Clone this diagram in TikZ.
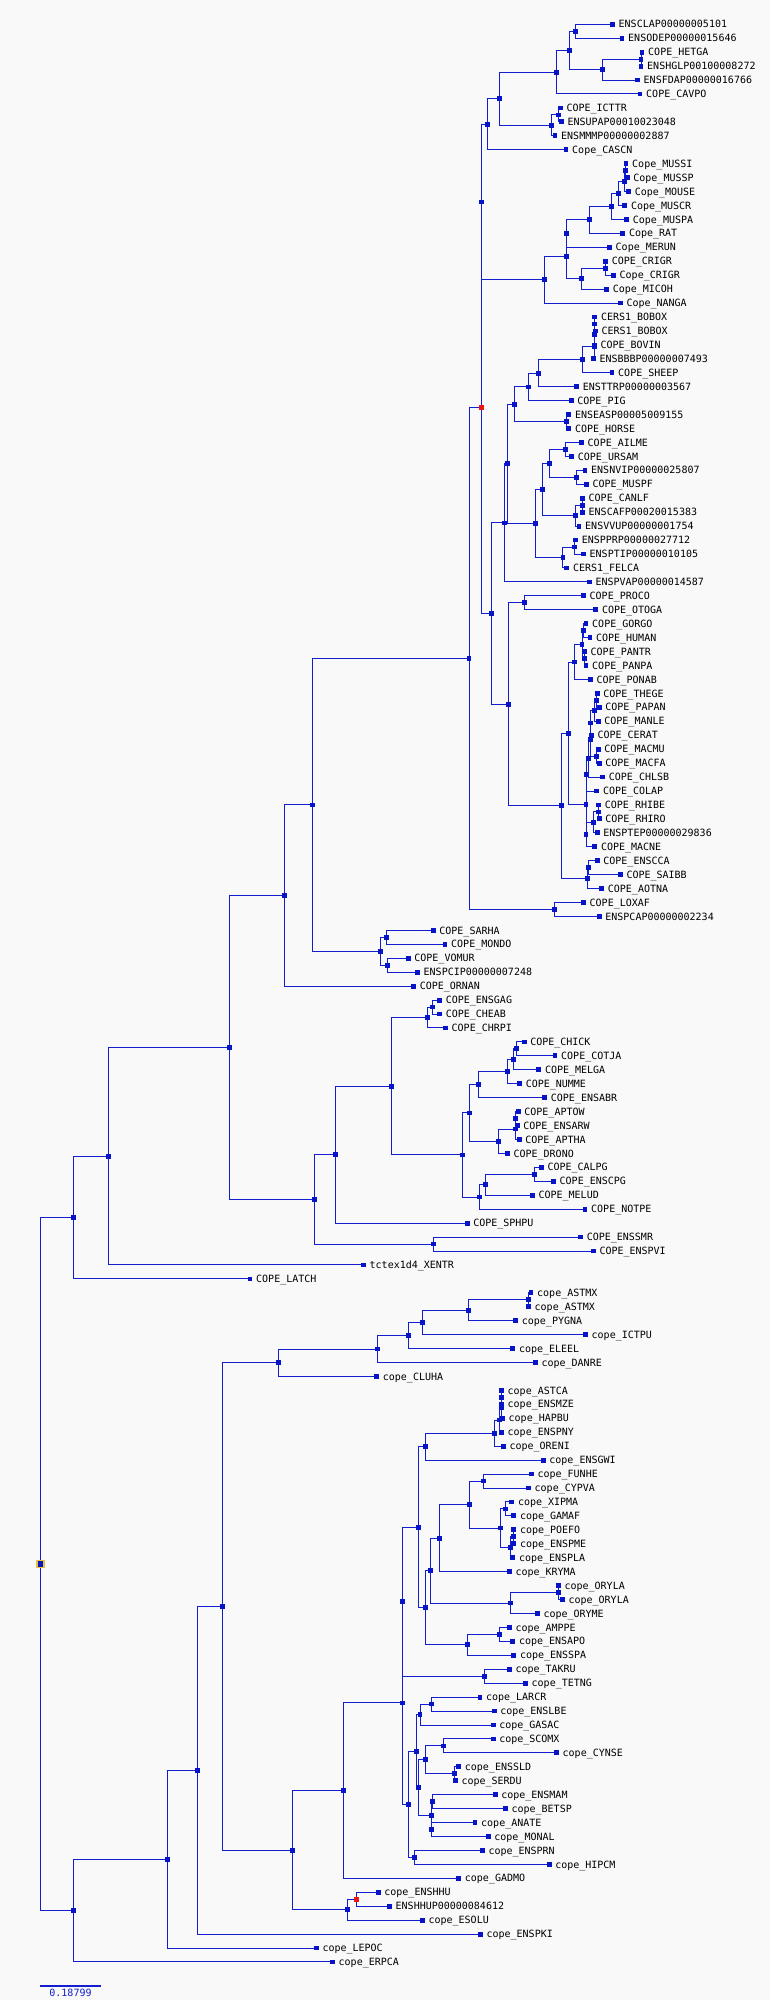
\documentclass[tikz,border=0pt]{standalone}
\usepackage{fontspec}
\setmonofont{DejaVu Sans Mono}
\usetikzlibrary{calc}
\definecolor{edgeblue}{RGB}{18,30,208}
\definecolor{markblue}{RGB}{8,20,200}
\definecolor{bgcol}{RGB}{249,249,249}
\definecolor{rootgold}{RGB}{232,192,64}
\definecolor{hotred}{RGB}{240,20,20}
\tikzset{
  edge/.style={draw=edgeblue, line width=0.5pt},
  lab/.style={anchor=west, inner sep=0pt, text height=3.6pt, text depth=0pt,
    font=\ttfamily\fontsize{5pt}{6pt}\selectfont, xshift=2.9pt},
}
\def\marklist{}
\newcommand\addmk[1]{\ifx\marklist\empty\gdef\marklist{#1}\else\xdef\marklist{\marklist,#1}\fi}
\newcommand\mksq[2][markblue]{\fill[#1] ($(#2)+(-2.4,-2.4)$) rectangle ($(#2)+(2.4,2.4)$);}
\newcommand\leaf[4]{\coordinate (#1) at (#2,24.3+13.94*#3); \node[lab] (#1t) at (#1) {#4}; \addmk{#1}}
\newcommand\inode[4]{\path let \p1=($(#3)!0.5!(#4)$) in (#2*0.5pt,\y1) coordinate (#1); \draw[edge] (#1) |- (#3); \draw[edge] (#1) |- (#4); \addmk{#1}}
\begin{document}
\begin{tikzpicture}[x=0.5pt,y=-0.5pt]
\fill[bgcol] (0,0) rectangle (770,2000);
\useasboundingbox (0,0) rectangle (770,2000);
% leaves
\leaf{l0}{612.5}{0}{ENSCLAP00000005101}
\leaf{l1}{622}{1}{ENSODEP00000015646}
\leaf{l2}{642}{2}{COPE\_HETGA}
\leaf{l3}{641}{3}{ENSHGLP00100008272}
\leaf{l4}{637.5}{4}{ENSFDAP00000016766}
\leaf{l5}{640}{5}{COPE\_CAVPO}
\leaf{l6}{560.4}{6}{COPE\_ICTTR}
\leaf{l7}{561.4}{7}{ENSUPAP00010023048}
\leaf{l8}{555}{8}{ENSMMMP00000002887}
\leaf{l9}{566}{9}{Cope\_CASCN}
\leaf{l10}{626}{10}{Cope\_MUSSI}
\leaf{l11}{627.2}{11}{Cope\_MUSSP}
\leaf{l12}{628.7}{12}{Cope\_MOUSE}
\leaf{l13}{624.8}{13}{Cope\_MUSCR}
\leaf{l14}{626.7}{14}{Cope\_MUSPA}
\leaf{l15}{622.8}{15}{Cope\_RAT}
\leaf{l16}{609.5}{16}{Cope\_MERUN}
\leaf{l17}{605.6}{17}{COPE\_CRIGR}
\leaf{l18}{613.5}{18}{Cope\_CRIGR}
\leaf{l19}{606.6}{19}{Cope\_MICOH}
\leaf{l20}{620.3}{20}{Cope\_NANGA}
\leaf{l21}{594.8}{21}{CERS1\_BOBOX}
\leaf{l22}{595.3}{22}{CERS1\_BOBOX}
\leaf{l23}{594.3}{23}{COPE\_BOVIN}
\leaf{l24}{593.3}{24}{ENSBBBP00000007493}
\leaf{l25}{612}{25}{COPE\_SHEEP}
\leaf{l26}{576.6}{26}{ENSTTRP00000003567}
\leaf{l27}{571.2}{27}{COPE\_PIG}
\leaf{l28}{568.8}{28}{ENSEASP00005009155}
\leaf{l29}{568.8}{29}{COPE\_HORSE}
\leaf{l30}{581.5}{30}{COPE\_AILME}
\leaf{l31}{571.7}{31}{COPE\_URSAM}
\leaf{l32}{585}{32}{ENSNVIP00000025807}
\leaf{l33}{586.4}{33}{COPE\_MUSPF}
\leaf{l34}{582.5}{34}{COPE\_CANLF}
\leaf{l35}{582.5}{35}{ENSCAFP00020015383}
\leaf{l36}{579}{36}{ENSVVUP00000001754}
\leaf{l37}{575.6}{37}{ENSPPRP00000027712}
\leaf{l38}{583.5}{38}{ENSPTIP00000010105}
\leaf{l39}{566.8}{39}{CERS1\_FELCA}
\leaf{l40}{589.4}{40}{ENSPVAP00000014587}
\leaf{l41}{583.5}{41}{COPE\_PROCO}
\leaf{l42}{595.8}{42}{COPE\_OTOGA}
\leaf{l43}{586}{43}{COPE\_GORGO}
\leaf{l44}{589.9}{44}{COPE\_HUMAN}
\leaf{l45}{584.5}{45}{COPE\_PANTR}
\leaf{l46}{586}{46}{COPE\_PANPA}
\leaf{l47}{590.4}{47}{COPE\_PONAB}
\leaf{l48}{597.2}{48}{COPE\_THEGE}
\leaf{l49}{599.2}{49}{COPE\_PAPAN}
\leaf{l50}{598.2}{50}{COPE\_MANLE}
\leaf{l51}{591.4}{51}{COPE\_CERAT}
\leaf{l52}{598.2}{52}{COPE\_MACMU}
\leaf{l53}{599.2}{53}{COPE\_MACFA}
\leaf{l54}{602.7}{54}{COPE\_CHLSB}
\leaf{l55}{596.8}{55}{COPE\_COLAP}
\leaf{l56}{598.7}{56}{COPE\_RHIBE}
\leaf{l57}{599.2}{57}{COPE\_RHIRO}
\leaf{l58}{597.2}{58}{ENSPTEP00000029836}
\leaf{l59}{594.8}{59}{COPE\_MACNE}
\leaf{l60}{597.2}{60}{COPE\_ENSCCA}
\leaf{l61}{620.3}{61}{COPE\_SAIBB}
\leaf{l62}{601.7}{62}{COPE\_AOTNA}
\leaf{l63}{583.5}{63}{COPE\_LOXAF}
\leaf{l64}{599.2}{64}{ENSPCAP00000002234}
\leaf{l65}{433.2}{65}{COPE\_SARHA}
\leaf{l66}{445}{66}{COPE\_MONDO}
\leaf{l67}{408.2}{67}{COPE\_VOMUR}
\leaf{l68}{417.5}{68}{ENSPCIP00000007248}
\leaf{l69}{413.6}{69}{COPE\_ORNAN}
\leaf{l70}{439.6}{70}{COPE\_ENSGAG}
\leaf{l71}{439.6}{71}{COPE\_CHEAB}
\leaf{l72}{445.5}{72}{COPE\_CHRPI}
\leaf{l73}{524.1}{73}{COPE\_CHICK}
\leaf{l74}{555}{74}{COPE\_COTJA}
\leaf{l75}{538.8}{75}{COPE\_MELGA}
\leaf{l76}{519.6}{76}{COPE\_NUMME}
\leaf{l77}{544.7}{77}{COPE\_ENSABR}
\leaf{l78}{518.2}{78}{COPE\_APTOW}
\leaf{l79}{517.2}{79}{COPE\_ENSARW}
\leaf{l80}{519.2}{80}{COPE\_APTHA}
\leaf{l81}{507.4}{81}{COPE\_DRONO}
\leaf{l82}{541.3}{82}{COPE\_CALPG}
\leaf{l83}{553.5}{83}{COPE\_ENSCPG}
\leaf{l84}{532.4}{84}{COPE\_MELUD}
\leaf{l85}{585}{85}{COPE\_NOTPE}
\leaf{l86}{467.1}{86}{COPE\_SPHPU}
\leaf{l87}{580.6}{87}{COPE\_ENSSMR}
\leaf{l88}{593.3}{88}{COPE\_ENSPVI}
\leaf{l89}{363.5}{89}{tctex1d4\_XENTR}
\leaf{l90}{250}{90}{COPE\_LATCH}
\leaf{l91}{531}{91}{cope\_ASTMX}
\leaf{l92}{528.5}{92}{cope\_ASTMX}
\leaf{l93}{515.7}{93}{cope\_PYGNA}
\leaf{l94}{585.5}{94}{cope\_ICTPU}
\leaf{l95}{512.8}{95}{cope\_ELEEL}
\leaf{l96}{535.4}{96}{cope\_DANRE}
\leaf{l97}{376.7}{97}{cope\_CLUHA}
\leaf{l98}{501.5}{98}{cope\_ASTCA}
\leaf{l99}{501.5}{99}{cope\_ENSMZE}
\leaf{l100}{502.5}{100}{cope\_HAPBU}
\leaf{l101}{501.5}{101}{cope\_ENSPNY}
\leaf{l102}{503.4}{102}{cope\_ORENI}
\leaf{l103}{543.2}{103}{cope\_ENSGWI}
\leaf{l104}{531.4}{104}{cope\_FUNHE}
\leaf{l105}{528.5}{105}{cope\_CYPVA}
\leaf{l106}{511.8}{106}{cope\_XIPMA}
\leaf{l107}{513.8}{107}{cope\_GAMAF}
\leaf{l108}{513.8}{108}{cope\_POEFO}
\leaf{l109}{513.8}{109}{cope\_ENSPME}
\leaf{l110}{512.8}{110}{cope\_ENSPLA}
\leaf{l111}{509.3}{111}{cope\_KRYMA}
\leaf{l112}{558.4}{112}{cope\_ORYLA}
\leaf{l113}{562.4}{113}{cope\_ORYLA}
\leaf{l114}{537.3}{114}{cope\_ORYME}
\leaf{l115}{509.3}{115}{cope\_AMPPE}
\leaf{l116}{512.8}{116}{cope\_ENSAPO}
\leaf{l117}{513.8}{117}{cope\_ENSSPA}
\leaf{l118}{509.3}{118}{cope\_TAKRU}
\leaf{l119}{525.5}{119}{cope\_TETNG}
\leaf{l120}{479.9}{120}{cope\_LARCR}
\leaf{l121}{494.1}{121}{cope\_ENSLBE}
\leaf{l122}{493.1}{122}{cope\_GASAC}
\leaf{l123}{493.1}{123}{cope\_SCOMX}
\leaf{l124}{556.5}{124}{cope\_CYNSE}
\leaf{l125}{458.7}{125}{cope\_ENSSLD}
\leaf{l126}{455.3}{126}{cope\_SERDU}
\leaf{l127}{495.1}{127}{cope\_ENSMAM}
\leaf{l128}{505.4}{128}{cope\_BETSP}
\leaf{l129}{475}{129}{cope\_ANATE}
\leaf{l130}{488.2}{130}{cope\_MONAL}
\leaf{l131}{482.3}{131}{cope\_ENSPRN}
\leaf{l132}{549.1}{132}{cope\_HIPCM}
\leaf{l133}{458.7}{133}{cope\_GADMO}
\leaf{l134}{378.2}{134}{cope\_ENSHHU}
\leaf{l135}{389.5}{135}{ENSHHUP00000084612}
\leaf{l136}{422.4}{136}{cope\_ESOLU}
\leaf{l137}{480.4}{137}{cope\_ENSPKI}
\leaf{l138}{316.3}{138}{cope\_LEPOC}
\leaf{l139}{332.5}{139}{cope\_ERPCA}
% rodents
\inode{a1}{575.6}{l0}{l1}
\inode{a2}{641}{l2}{l3}
\inode{a3}{602.7}{a2}{l4}
\inode{a4}{569.7}{a1}{a3}
\inode{a5}{556.5}{a4}{l5}
\inode{a6}{558.5}{l6}{l7}
\inode{a7}{551.6}{a6}{l8}
\inode{a8}{499.5}{a5}{a7}
\inode{a9}{487.7}{a8}{l9}
\inode{b1}{625.7}{l10}{l11}
\inode{b2}{624.3}{b1}{l12}
\inode{b3}{618.4}{b2}{l13}
\inode{b4}{611.5}{b3}{l14}
\inode{b5}{589.4}{b4}{l15}
\inode{b6}{566.8}{b5}{l16}
\inode{b7}{605.6}{l17}{l18}
\inode{b8}{581.5}{b7}{l19}
\inode{b9}{566.8}{b6}{b8}
\inode{b10}{544.7}{b9}{l20}
\inode{glr}{481.3}{a9}{b10}
% laurasiatheria
\inode{c1}{594.8}{l21}{l22}
\inode{c2}{594.8}{c1}{l23}
\inode{c3}{594.3}{c2}{l24}
\inode{c4}{582.5}{c3}{l25}
\inode{c5}{538.8}{c4}{l26}
\inode{c6}{528.5}{c5}{l27}
\inode{c7}{566.8}{l28}{l29}
\inode{c8}{514.7}{c6}{c7}
\inode{c9}{565.8}{l30}{l31}
\inode{c10}{576.6}{l32}{l33}
\inode{c11}{549.6}{c9}{c10}
\inode{c12}{582.5}{l34}{l35}
\inode{c13}{575.6}{c12}{l36}
\inode{c14}{542.7}{c11}{c13}
\inode{c15}{574.7}{l37}{l38}
\inode{c16}{562.9}{c15}{l39}
\inode{c17}{535.4}{c14}{c16}
\inode{c18}{507.4}{c8}{c17}
\inode{c19}{504.4}{c18}{l40}
% primates
\inode{p1}{524.6}{l41}{l42}
\inode{p2}{583.5}{l43}{l44}
\inode{p3}{584.5}{l45}{l46}
\inode{p4}{582}{p2}{p3}
\inode{p5}{574.7}{p4}{l47}
\inode{p6}{596.3}{l48}{l49}
\inode{p7}{594.3}{p6}{l50}
\inode{p8}{590.4}{p7}{l51}
\inode{p9}{596.8}{l52}{l53}
\inode{p10}{590.4}{p8}{p9}
\inode{p11}{588.4}{p10}{l54}
\inode{p12}{586}{p11}{l55}
\inode{p13}{598.2}{l56}{l57}
\inode{p14}{593.3}{p13}{l58}
\inode{p15}{586}{p14}{l59}
\inode{p16}{586}{p12}{p15}
\inode{p17}{568.8}{p5}{p16}
\inode{p18}{588.4}{l60}{l61}
\inode{p19}{587.4}{p18}{l62}
\inode{p20}{561.4}{p17}{p19}
\inode{p21}{508.3}{p1}{p20}
\inode{lau}{491.7}{c19}{p21}
\inode{red}{481.3}{glr}{lau}
\inode{af}{554.5}{l63}{l64}
\inode{eu}{469}{red}{af}
\inode{mar1}{386.5}{l65}{l66}
\inode{mar2}{387.5}{l67}{l68}
\inode{mar}{380.6}{mar1}{mar2}
\inode{th}{312.4}{eu}{mar}
\inode{mam}{284.4}{th}{l69}
% sauropsids
\inode{s1}{432.2}{l70}{l71}
\inode{s2}{427.3}{s1}{l72}
\inode{s3}{516.2}{l73}{l74}
\inode{s4}{513.8}{s3}{l75}
\inode{s5}{507.4}{s4}{l76}
\inode{s6}{478.4}{s5}{l77}
\inode{s7}{515.2}{l78}{l79}
\inode{s8}{515.2}{s7}{l80}
\inode{s9}{498.5}{s8}{l81}
\inode{s10}{469.5}{s6}{s9}
\inode{s11}{534.4}{l82}{l83}
\inode{s12}{485.8}{s11}{l84}
\inode{s13}{479.4}{s12}{l85}
\inode{s14}{462.2}{s10}{s13}
\inode{s15}{391.5}{s2}{s14}
\inode{s16}{335.5}{s15}{l86}
\inode{s17}{433.2}{l87}{l88}
\inode{s18}{314.4}{s16}{s17}
\inode{amn}{229.4}{mam}{s18}
\inode{tet}{108.5}{amn}{l89}
\inode{sar}{73.7}{tet}{l90}
% fishes
\inode{f1}{528.5}{l91}{l92}
\inode{f2}{468.6}{f1}{l93}
\inode{f3}{422.4}{f2}{l94}
\inode{f4}{408.6}{f3}{l95}
\inode{f5}{377.7}{f4}{l96}
\inode{f6}{278.5}{f5}{l97}
\inode{g1}{501.5}{l98}{l99}
\inode{g2}{501.5}{g1}{l100}
\inode{g3}{499.5}{g2}{l101}
\inode{g4}{494.6}{g3}{l102}
\inode{g5}{425.3}{g4}{l103}
\inode{h1}{483.3}{l104}{l105}
\inode{h2}{505.4}{l106}{l107}
\inode{h3}{513.8}{l108}{l109}
\inode{h4}{510.8}{h3}{l110}
\inode{h5}{500.5}{h2}{h4}
\inode{h6}{469.5}{h1}{h5}
\inode{h7}{439.6}{h6}{l111}
\inode{h8}{558.4}{l112}{l113}
\inode{h9}{510.8}{h8}{l114}
\inode{h10}{430.7}{h7}{h9}
\inode{i1}{499.5}{l115}{l116}
\inode{i2}{467.6}{i1}{l117}
\inode{i3}{425.3}{h10}{i2}
\inode{ova}{418.5}{g5}{i3}
\inode{j1}{484.8}{l118}{l119}
\inode{j2}{402.8}{ova}{j1}
\inode{k1}{431.7}{l120}{l121}
\inode{k2}{420}{k1}{l122}
\inode{k3}{443.5}{l123}{l124}
\inode{k4}{454.3}{l125}{l126}
\inode{k5}{425.3}{k3}{k4}
\inode{k6}{432.7}{l127}{l128}
\inode{k7}{431.7}{l129}{l130}
\inode{k8}{431.7}{k6}{k7}
\inode{k9}{418.5}{k5}{k8}
\inode{k10}{416.5}{k2}{k9}
\inode{k11}{414.5}{l131}{l132}
\inode{k12}{408.2}{k10}{k11}
\inode{j3}{402.8}{j2}{k12}
\inode{j4}{343.3}{j3}{l133}
\inode{e1}{356.6}{l134}{l135}
\inode{e2}{347.7}{e1}{l136}
\inode{j5}{292.7}{j4}{e2}
\inode{z1}{222.5}{f6}{j5}
\inode{z2}{197.4}{z1}{l137}
\inode{z3}{167.5}{z2}{l138}
\inode{act}{73.7}{z3}{l139}
\inode{root}{40.3}{sar}{act}
% markers on top
\foreach \n in \marklist {\mksq{\n}}
\mksq[hotred]{red}
\mksq[hotred]{e1}
\fill[rootgold] ($(root)+(-4.3,-4.3)$) rectangle ($(root)+(4.3,4.3)$);
\fill[markblue] ($(root)+(-2.6,-2.6)$) rectangle ($(root)+(2.6,2.6)$);
% scale bar
\coordinate (sbL) at (40.3,1985.7);
\coordinate (sbR) at (100.7,1985.7);
\draw[draw=edgeblue, line width=1pt] (sbL) -- (sbR);
\node[inner sep=0pt, text=edgeblue, font=\ttfamily\fontsize{5pt}{6pt}\selectfont, anchor=north] (sbt) at ($(sbL)!0.5!(sbR)+(0,3.2)$) {0.18799};
\end{tikzpicture}
\end{document}
